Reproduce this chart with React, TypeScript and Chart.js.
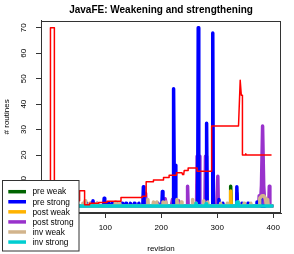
import { useEffect, useRef } from 'react';
import { Chart, registerables } from 'chart.js';

Chart.register(...registerables);

const FONT = "'Liberation Sans', Arial, Helvetica, sans-serif";

const TITLE = 'JavaFE: Weakening and strengthening';
const X_LABEL = 'revision';
const Y_LABEL = '# routines';

// tick marks (R pretty axis)
const X_TICKS = [0, 100, 200, 300, 400];
const Y_TICKS = [0, 10, 20, 30, 40, 50, 60, 70];

// legend entries (name, colour) for the six series
const SERIES_NAMES = ['pre weak', 'pre strong', 'post weak', 'post strong', 'inv weak', 'inv strong'];
const SERIES_COLORS = ['#006400', '#0000FF', '#FFB300', '#9932CC', '#D2B48C', '#00CED1'];
const TOTAL_COLOR = '#FF0000';

// [revision, # routines]
const preWeak: [number, number][] = [
  [1, 0], [323, 0], [324, 7.7], [325, 0], [398, 0],
];

const preStrong: [number, number][] = [
  [1, 0], [65, 0], [66, 1], [67, 0], [73, 0], [74, 1], [75, 0], [77, 0], [78, 2], [79, 0],
  [85, 0], [86, 1], [87, 0], [97, 0], [98, 3], [99, 0], [104, 0], [105, 1], [106, 0],
  [111, 0], [112, 1], [113, 0], [120, 0], [121, 1], [122, 0], [129, 0], [130, 1], [131, 0],
  [136, 0], [137, 1], [138, 0], [144, 0], [145, 1], [146, 0], [151, 0], [152, 1], [153, 0],
  [159, 0], [160, 1], [161, 0], [167, 0], [168, 7.5], [169, 0], [186, 0], [187, 1], [188, 0],
  [193, 0], [194, 1], [195, 0], [201, 0], [202, 5.7], [203, 0], [221, 0], [222, 46], [223, 16],
  [225, 16], [226, 0], [265, 0], [266, 70], [267, 0], [280, 0], [281, 32.5], [282, 0],
  [291, 0], [292, 68], [293, 0], [302, 0], [303, 2.5], [304, 0], [309, 0], [310, 1], [311, 0],
  [334, 0], [335, 7.5], [336, 0], [343, 0], [344, 1], [345, 0], [354, 0], [355, 1], [356, 0],
  [370, 0], [371, 1.5], [372, 0], [376, 0], [377, 3], [378, 0], [398, 0],
];

const postWeak: [number, number][] = [
  [1, 0], [323, 0], [324, 5.8], [325, 0], [398, 0],
];

const postStrong: [number, number][] = [
  [1, 0], [171, 0], [172, 5], [173, 0], [205, 0], [207, 2.8], [209, 0], [218, 0], [220, 2.5],
  [221, 0], [229, 0], [230, 2], [231, 0], [246, 0], [247, 7.7], [248, 0], [263, 0], [264, 19.5],
  [268, 19.5], [269, 0], [278, 0], [279, 19.5], [281, 19.5], [282, 0], [299, 0], [301, 11.6],
  [302, 0], [334, 0], [335, 5], [336, 0], [374, 0], [375, 4], [376, 0], [377, 0], [379, 8],
  [381, 31.4], [383, 8], [385, 0], [392, 0], [393, 7.7], [394, 0], [398, 0],
];

const invWeak: [number, number][] = [
  [1, 0], [59, 0], [60, 1], [61, 0], [63, 0], [64, 2], [65, 0], [71, 0], [72, 1], [73, 0],
  [84, 0], [85, 1], [86, 0], [117, 0], [118, 1.5], [119, 0], [124, 0], [125, 1], [126, 0],
  [175, 0], [176, 2.5], [177, 0], [185, 0], [186, 1.5], [187, 0], [191, 0], [192, 1.5], [193, 0],
  [202, 0], [203, 1.5], [204, 0], [207, 0], [208, 1.5], [209, 0], [227, 0], [228, 2.5], [229, 0],
  [235, 0], [236, 1.5], [237, 0], [255, 0], [256, 2.5], [257, 0], [261, 0], [262, 1], [263, 0],
  [275, 0], [276, 2], [277, 0], [282, 0], [283, 1.5], [284, 0], [305, 0], [306, 1], [307, 0],
  [317, 0], [318, 1], [319, 0], [337, 0], [338, 1.5], [339, 0], [347, 0], [348, 1], [349, 0],
  [359, 0], [360, 1], [361, 0], [375, 0], [376, 3], [378, 3.5], [380, 4], [383, 4], [386, 3],
  [388, 0], [389, 0], [390, 2.5], [391, 0], [398, 0],
];

const invStrong: [number, number][] = [
  [1, 0], [261, 0], [262, 1], [263, 0], [279, 0], [280, 0.8], [281, 0], [334, 0], [335, 1.5],
  [337, 1.5], [338, 0], [398, 0],
];

// red step line (total)
const total: [number, number][] = [
  [1, 2], [2, 2], [2, 70], [9, 70], [9, 2], [54, 2], [54, 5.9], [63, 5.9], [63, 0.4], [72, 0.4],
  [72, 1.0], [88, 1.0], [88, 1.3], [103, 1.3], [103, 1.8], [128, 1.8], [128, 3.3], [166, 3.3],
  [166, 3.8], [173, 3.8], [173, 9.5], [186, 9.5], [186, 10.2], [204, 10.2], [204, 11.2],
  [214, 11.2], [214, 12], [227, 12], [227, 13], [237, 13], [238, 12.3], [240, 12.3], [241, 13.9],
  [248, 13.9], [248, 14.9], [264, 14.9], [264, 13.6], [290, 13.6], [290, 31.4], [338, 31.4],
  [341, 49.4], [342, 49.4], [343, 43.5], [345, 43.5], [345, 20], [350, 20], [351, 20.5],
  [352, 20], [397, 20],
];

const SERIES = [preWeak, preStrong, postWeak, postStrong, invWeak, invStrong];
// drawing order: lower value drawn on top
const SERIES_ORDER = [6, 3, 5, 4, 2, 1];

const boxPlugin = {
  id: 'rbox',
  afterDatasetsDraw(chart: any) {
    const { ctx, chartArea } = chart;
    ctx.save();
    ctx.strokeStyle = '#333';
    ctx.lineWidth = 1;
    ctx.strokeRect(
      Math.round(chartArea.left) + 0.5,
      Math.round(chartArea.top) + 0.5,
      Math.round(chartArea.right - chartArea.left) - 1,
      Math.round(chartArea.bottom - chartArea.top) - 1,
    );
    ctx.restore();
  },
};

const legendPlugin = {
  id: 'rlegend',
  afterDraw(chart: any) {
    const { ctx } = chart;
    ctx.save();
    const x0 = 2.5, y0 = 180.5, w = 76.5, h = 70.5;
    ctx.fillStyle = '#fff';
    ctx.fillRect(x0, y0, w, h);
    ctx.strokeStyle = '#333';
    ctx.lineWidth = 1;
    ctx.strokeRect(x0, y0, w, h);
    ctx.font = `8.3px ${FONT}`;
    ctx.textBaseline = 'middle';
    ctx.textAlign = 'left';
    SERIES_NAMES.forEach((name, i) => {
      const y = 191.7 + i * 10.07;
      ctx.strokeStyle = SERIES_COLORS[i];
      ctx.lineWidth = 3.5;
      ctx.lineCap = 'butt';
      ctx.beginPath();
      ctx.moveTo(8.3, y);
      ctx.lineTo(26, y);
      ctx.stroke();
      ctx.fillStyle = '#000';
      ctx.fillText(name, 32.5, y + 0.5);
    });
    ctx.restore();
  },
};

export default function App() {
  const ref = useRef<HTMLCanvasElement>(null);
  useEffect(() => {
    const datasets: any[] = [
      {
        label: 'total',
        data: total.map(([x, y]) => ({ x, y })),
        borderColor: TOTAL_COLOR,
        borderWidth: 1.5,
        pointRadius: 0,
        tension: 0,
        order: 0,
        borderJoinStyle: 'round',
      },
      ...SERIES.map((s, i) => ({
        label: SERIES_NAMES[i],
        data: s.map(([x, y]) => ({ x, y })),
        borderColor: SERIES_COLORS[i],
        borderWidth: 3.5,
        pointRadius: 0,
        tension: 0,
        order: SERIES_ORDER[i],
        borderJoinStyle: 'round',
        borderCapStyle: 'round',
      })),
    ];
    const chart = new Chart(ref.current!, {
      type: 'line',
      data: { datasets },
      options: {
        responsive: false,
        animation: false,
        devicePixelRatio: 1,
        events: [],
        layout: { padding: { left: 0, right: 13, top: 0, bottom: 0 } },
        plugins: {
          legend: { display: false },
          tooltip: { enabled: false },
          title: {
            display: true,
            text: TITLE,
            fullSize: false,
            color: '#000',
            font: { family: FONT, size: 10, weight: 'bold', lineHeight: 1.2 },
            padding: { top: 4, bottom: 4.7 },
          },
        },
        scales: {
          x: {
            type: 'linear',
            min: -14.9,
            max: 413.9,
            afterFit: (s: any) => { s.height = 41; },
            afterBuildTicks: (s: any) => { s.ticks = X_TICKS.map((v) => ({ value: v })); },
            ticks: {
              autoSkip: false,
              maxRotation: 0,
              padding: 5,
              color: '#000',
              font: { family: FONT, size: 8 },
            },
            grid: { display: true, drawOnChartArea: false, drawTicks: true, tickLength: 5, color: '#333' },
            border: { display: true, color: '#333', width: 1 },
            title: {
              display: true,
              text: X_LABEL,
              color: '#000',
              font: { family: FONT, size: 8, lineHeight: 1.2 },
              padding: { top: 0, bottom: 0.5 },
            },
          },
          y: {
            type: 'linear',
            min: -2.8,
            max: 72.8,
            afterFit: (s: any) => { s.width = 41; },
            afterBuildTicks: (s: any) => { s.ticks = Y_TICKS.map((v) => ({ value: v })); },
            ticks: {
              autoSkip: false,
              minRotation: 90,
              maxRotation: 90,
              crossAlign: 'center',
              padding: 8.2,
              color: '#000',
              font: { family: FONT, size: 8 },
            },
            grid: { display: true, drawOnChartArea: false, drawTicks: true, tickLength: 5, color: '#333' },
            border: { display: true, color: '#333', width: 1 },
            title: {
              display: true,
              text: Y_LABEL,
              color: '#000',
              font: { family: FONT, size: 8, lineHeight: 1.2 },
              padding: { top: 1.7, bottom: 0 },
            },
          },
        },
      },
      plugins: [boxPlugin, legendPlugin],
    } as any);
    return () => chart.destroy();
  }, []);
  return (
    <div style={{ position: 'fixed', left: 0, top: 0, width: 294, height: 254, background: '#fff' }}>
      <canvas ref={ref} width={294} height={254} style={{ display: 'block', width: 294, height: 254 }} />
    </div>
  );
}
